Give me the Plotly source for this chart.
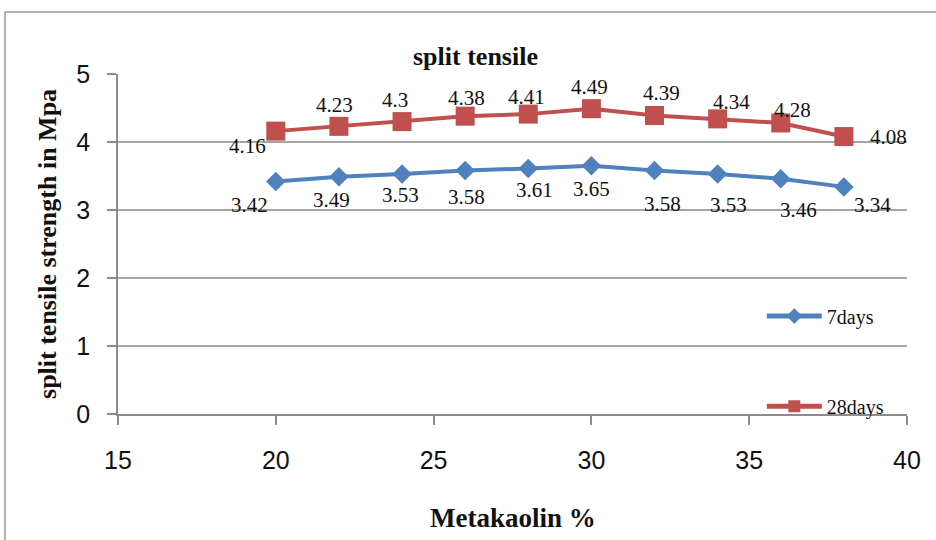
import plotly.graph_objects as go

# Metakaolin replacement levels (%) and split tensile strength (MPa)
metakaolin = [20, 22, 24, 26, 28, 30, 32, 34, 36, 38]
strength_7d = [3.42, 3.49, 3.53, 3.58, 3.61, 3.65, 3.58, 3.53, 3.46, 3.34]
strength_28d = [4.16, 4.23, 4.30, 4.38, 4.41, 4.49, 4.39, 4.34, 4.28, 4.08]
label_7d = ["3.42", "3.49", "3.53", "3.58", "3.61", "3.65", "3.58", "3.53", "3.46", "3.34"]
label_28d = ["4.16", "4.23", "4.3", "4.38", "4.41", "4.49", "4.39", "4.34", "4.28", "4.08"]

# pixel nudges for the value labels (dx, dy with +dy upwards)
shift_7d = [(-26, -24), (-7, -23), (-2, -21), (1, -26), (6, -21),
            (0, -23), (8, -33), (11, -31), (18, -31), (29, -18)]
shift_28d = [(-28, -15), (-4, 21), (-7, 22), (1, 18), (-2, 17),
             (-2, 22), (7, 22), (14, 17), (12, 13), (45, 0)]

BLUE = "#4F81BD"
RED = "#C0504D"
GRID = "#A6A6A6"
SERIF = "Liberation Serif, Times New Roman, serif"
SANS = "Liberation Sans Narrow, Liberation Sans, Arial, sans-serif"

fig = go.Figure()
fig.add_trace(go.Scatter(
    x=metakaolin, y=strength_7d, mode="lines+markers", name="7days",
    line=dict(color=BLUE, width=4),
    marker=dict(symbol="diamond", size=15, color=BLUE),
    legend="legend",
))
fig.add_trace(go.Scatter(
    x=metakaolin, y=strength_28d, mode="lines+markers", name="28days",
    line=dict(color=RED, width=4),
    marker=dict(symbol="square", size=19, color=RED),
    legend="legend2",
))

annotations = []
for xv, yv, txt, (dx, dy) in zip(metakaolin, strength_7d, label_7d, shift_7d):
    annotations.append(dict(x=xv, y=yv, text=txt, showarrow=False, xshift=dx, yshift=dy,
                            font=dict(family=SERIF, size=21, color="#111")))
for xv, yv, txt, (dx, dy) in zip(metakaolin, strength_28d, label_28d, shift_28d):
    annotations.append(dict(x=xv, y=yv, text=txt, showarrow=False, xshift=dx, yshift=dy,
                            font=dict(family=SERIF, size=21, color="#111")))

# chart title and axis titles
annotations.append(dict(x=0.4525, y=1.05, xref="paper", yref="paper", text="<b>split tensile</b>",
                        showarrow=False, xanchor="center", yanchor="middle",
                        font=dict(family=SERIF, size=26, color="#111")))
annotations.append(dict(x=0.5, y=-0.306, xref="paper", yref="paper", text="<b>Metakaolin %</b>",
                        showarrow=False, xanchor="center", yanchor="middle",
                        font=dict(family=SERIF, size=27, color="#111")))
annotations.append(dict(x=-0.09, y=0.50, xref="paper", yref="paper",
                        text="<b>split tensile strength in Mpa</b>", textangle=-90,
                        showarrow=False, xanchor="center", yanchor="middle",
                        font=dict(family=SERIF, size=26, color="#111")))

legend_style = dict(xanchor="left", yanchor="middle", bgcolor="rgba(0,0,0,0)",
                    font=dict(family=SERIF, size=20, color="#111"),
                    itemwidth=55, itemsizing="constant")

fig.update_layout(
    width=936, height=540,
    margin=dict(l=118, r=29, t=74, b=126),
    paper_bgcolor="white", plot_bgcolor="white",
    showlegend=True,
    annotations=annotations,
    legend=dict(x=0.816, y=0.288, **legend_style),
    legend2=dict(x=0.816, y=0.023, **legend_style),
    xaxis=dict(range=[15, 40], dtick=5, tick0=15, showgrid=False, zeroline=False,
               showline=True, linecolor="#8C8C8C", linewidth=1.5,
               ticks="outside", ticklen=9, tickcolor="#8C8C8C", tickwidth=1.5,
               ticklabelstandoff=14,
               tickfont=dict(family=SANS, size=25, color="#111")),
    yaxis=dict(range=[0, 5], dtick=1, showgrid=True, gridcolor=GRID, gridwidth=1.5,
               zeroline=False, showline=True, linecolor="#8C8C8C", linewidth=1.5,
               ticks="outside", ticklen=9, tickcolor="#8C8C8C", tickwidth=1.5,
               ticklabelstandoff=12,
               tickfont=dict(family=SANS, size=25, color="#111")),
    shapes=[dict(type="rect", xref="paper", yref="paper",
                 x0=-0.1432, x1=1.05, y0=-0.4, y1=1.1824,
                 line=dict(color="#9A9A9A", width=1.5))],
)

fig.write_html("out.html")
